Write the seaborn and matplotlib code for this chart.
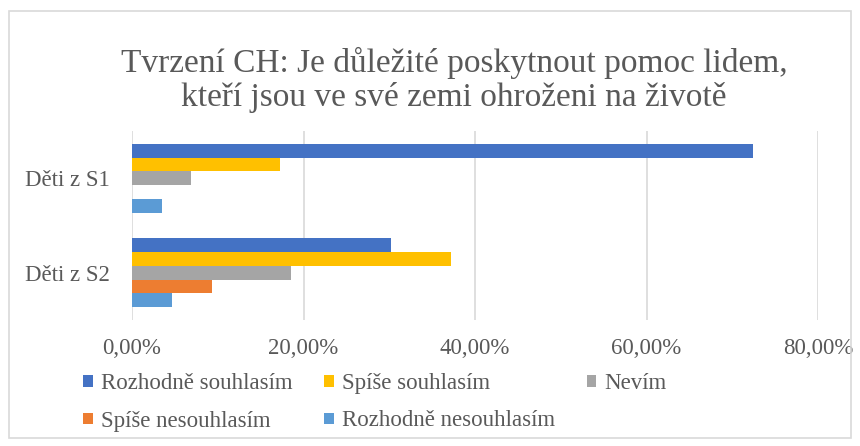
import matplotlib
matplotlib.use("Agg")
import matplotlib.pyplot as plt
import matplotlib.patches as mpatches
from matplotlib.ticker import FuncFormatter, MultipleLocator
import seaborn as sns
import pandas as pd

# ---- data ----
categories = ["Děti z S1", "Děti z S2"]
series = ["Rozhodně souhlasím", "Spíše souhlasím", "Nevím",
          "Spíše nesouhlasím", "Rozhodně nesouhlasím"]
values_s1 = [72.41, 17.24, 6.90, 0.0, 3.45]
values_s2 = [30.23, 37.21, 18.60, 9.30, 4.65]
colors = ["#4472C4", "#FFC000", "#A5A5A5", "#ED7D31", "#5B9BD5"]
title_text = "Tvrzení CH: Je důležité poskytnout pomoc lidem,\nkteří jsou ve své zemi ohroženi na životě"

rows = []
for cat, vals in zip(categories, [values_s1, values_s2]):
    for s, v in zip(series, vals):
        rows.append({"Skupina": cat, "Odpověď": s, "Podíl": v})
df = pd.DataFrame(rows)

sns.set_theme(style="white")
plt.rcParams["font.family"] = ["Liberation Serif", "DejaVu Serif"]
text_color = "#595959"
grid_color = "#D9D9D9"

fig = plt.figure(figsize=(8.6, 4.46), dpi=100)
ax = fig.add_axes([132 / 860, 1 - 320 / 446, (818 - 132) / 860, (320 - 131) / 446])

sns.barplot(data=df, y="Skupina", x="Podíl", hue="Odpověď",
            order=categories, hue_order=series, palette=colors,
            saturation=1, orient="h", width=0.73, gap=0, linewidth=0, ax=ax)

ax.set_xlim(0, 80)
ax.xaxis.set_major_locator(MultipleLocator(20))
ax.xaxis.set_major_formatter(FuncFormatter(lambda v, p: f"{v:.2f}%".replace(".", ",")))
ax.grid(axis="x", color=grid_color, linewidth=1.2)
ax.grid(axis="y", visible=False)
ax.set_axisbelow(True)
for sp in ax.spines.values():
    sp.set_visible(False)
ax.set_xlabel("")
ax.set_ylabel("")
ax.tick_params(axis="x", length=0, pad=13, labelsize=16.5, colors=text_color)
ax.tick_params(axis="y", length=0, pad=16, labelsize=16.5, colors=text_color)

# legend in row-major order
handles, labels = ax.get_legend_handles_labels()
order = [0, 3, 1, 4, 2]
ax.legend([handles[i] for i in order], [labels[i] for i in order],
          loc="upper left", bbox_to_anchor=(72 / 860, 1 - 362 / 446),
          bbox_transform=fig.transFigure, ncol=3, frameon=False,
          fontsize=16.5, handlelength=0.4, handleheight=0.4,
          handletextpad=0.35, columnspacing=1.4, labelspacing=0.7,
          borderpad=0, labelcolor=text_color)

fig.text(454 / 860, 1 - 80 / 446, title_text, ha="center", va="center",
         fontsize=24, color=text_color, linespacing=1.12)

fig.patches.append(mpatches.Rectangle((9 / 860, 1 - 438 / 446), (851 - 9) / 860,
                                      (438 - 11) / 446, transform=fig.transFigure,
                                      fill=False, edgecolor=grid_color, linewidth=1.2))

fig.savefig("out.png", dpi=100, facecolor="white")
